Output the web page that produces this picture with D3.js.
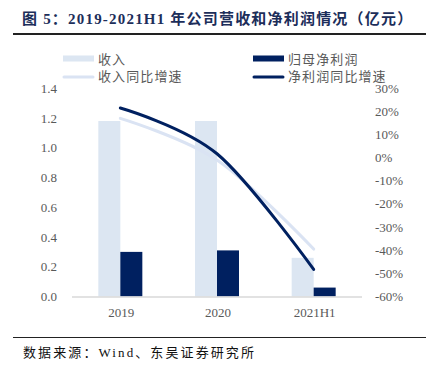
<!DOCTYPE html>
<html>
<head>
<meta charset="utf-8">
<script src="https://cdn.jsdelivr.net/npm/d3@7"></script>
<style>
  body { margin: 0; background: #fff; }
  svg text { font-family: "Liberation Serif", "Noto Sans CJK SC", serif; }
</style>
</head>
<body>
<svg width="434" height="370"></svg>
<script>
const categories = ['2019', '2020', '2021H1'];
const revenue = [1.18, 1.18, 0.26];
const netProfit = [0.30, 0.31, 0.06];
const revenueGrowth = [17, -1, -39.5];
const profitGrowth = [21.5, 1.7, -48.3];
const leftTicks = [0, 0.2, 0.4, 0.6, 0.8, 1.0, 1.2, 1.4];
const rightTicks = [30, 20, 10, 0, -10, -20, -30, -40, -50, -60];

const light = '#dce6f2';
const lightLine = '#dae3f3';
const dark = '#002060';
const grey = '#595959';

const svg = d3.select('svg');

// title
svg.append('text')
  .attr('x', 22).attr('y', 24)
  .attr('font-size', 15).attr('font-weight', 'bold')
  .attr('letter-spacing', 1.2)
  .attr('fill', '#1c2e5a')
  .text('图 5：2019-2021H1 年公司营收和净利润情况（亿元）');
svg.append('line')
  .attr('x1', 13).attr('x2', 426).attr('y1', 34).attr('y2', 34)
  .attr('stroke', '#222').attr('stroke-width', 2);

const x = d3.scaleBand().domain(categories).range([72, 362]);
const yL = d3.scaleLinear().domain([0, 1.4]).range([296.5, 88.3]);
const yR = d3.scaleLinear().domain([-60, 30]).range([296.5, 88.3]);
const barW = 22;

// axis labels
svg.append('g').selectAll('text').data(leftTicks).join('text')
  .attr('x', 57).attr('y', d => yL(d) + 4.5)
  .attr('text-anchor', 'end').attr('font-size', 13).attr('fill', grey)
  .text(d => d.toFixed(1));

svg.append('g').selectAll('text').data(rightTicks).join('text')
  .attr('x', 375).attr('y', d => yR(d) + 4.5)
  .attr('font-size', 13).attr('fill', grey)
  .text(d => d + '%');

svg.append('g').selectAll('text').data(categories).join('text')
  .attr('x', d => x(d) + x.bandwidth() / 2 + 1).attr('y', 317)
  .attr('text-anchor', 'middle').attr('font-size', 13).attr('fill', grey)
  .text(d => d);

// bars
const cx = d => x(d) + x.bandwidth() / 2;
svg.append('g').selectAll('rect').data(categories).join('rect')
  .attr('x', (d) => cx(d) - barW)
  .attr('y', (d, i) => yL(revenue[i]))
  .attr('width', barW)
  .attr('height', (d, i) => yL(0) - yL(revenue[i]))
  .attr('fill', light);

svg.append('g').selectAll('rect').data(categories).join('rect')
  .attr('x', (d) => cx(d))
  .attr('y', (d, i) => yL(netProfit[i]))
  .attr('width', barW)
  .attr('height', (d, i) => yL(0) - yL(netProfit[i]))
  .attr('fill', dark);

// baseline
svg.append('line')
  .attr('x1', 72).attr('x2', 362).attr('y1', 297).attr('y2', 297)
  .attr('stroke', '#d9d9d9').attr('stroke-width', 1.5);

// lines (Excel-style smoothing)
const line = d3.line()
  .x((d, i) => cx(categories[i]))
  .y(d => yR(d))
  .curve(d3.curveCardinal.tension(0));

svg.append('path').datum(revenueGrowth)
  .attr('d', line).attr('fill', 'none')
  .attr('stroke', lightLine).attr('stroke-width', 3).attr('stroke-linecap', 'round');
svg.append('path').datum(profitGrowth)
  .attr('d', line).attr('fill', 'none')
  .attr('stroke', dark).attr('stroke-width', 3).attr('stroke-linecap', 'round');

// legend
const legend = [
  { label: '收入', type: 'rect', color: light, x: 63, y: 58.5 },
  { label: '归母净利润', type: 'rect', color: dark, x: 253, y: 58.5 },
  { label: '收入同比增速', type: 'line', color: lightLine, x: 63, y: 77 },
  { label: '净利润同比增速', type: 'line', color: dark, x: 253, y: 77 }
];
const lg = svg.append('g').selectAll('g').data(legend).join('g')
  .attr('transform', d => `translate(${d.x},${d.y})`);
lg.filter(d => d.type === 'rect').append('rect')
  .attr('x', 0).attr('y', -3).attr('width', 31).attr('height', 6)
  .attr('fill', d => d.color);
lg.filter(d => d.type === 'line').append('line')
  .attr('x1', 1).attr('x2', 30).attr('y1', 0).attr('y2', 0)
  .attr('stroke', d => d.color).attr('stroke-width', 3).attr('stroke-linecap', 'round');
lg.append('text')
  .attr('x', 35).attr('y', d => d.type === 'rect' ? 5.5 : 4)
  .attr('font-size', 13).attr('letter-spacing', 1.1).attr('fill', grey)
  .text(d => d.label);

// source
svg.append('line')
  .attr('x1', 13).attr('x2', 426).attr('y1', 337.5).attr('y2', 337.5)
  .attr('stroke', '#222').attr('stroke-width', 1);
svg.append('text')
  .attr('x', 23).attr('y', 357)
  .attr('font-size', 13).attr('letter-spacing', 2.1).attr('fill', '#111')
  .text('数据来源：Wind、东吴证券研究所');
</script>
</body>
</html>
